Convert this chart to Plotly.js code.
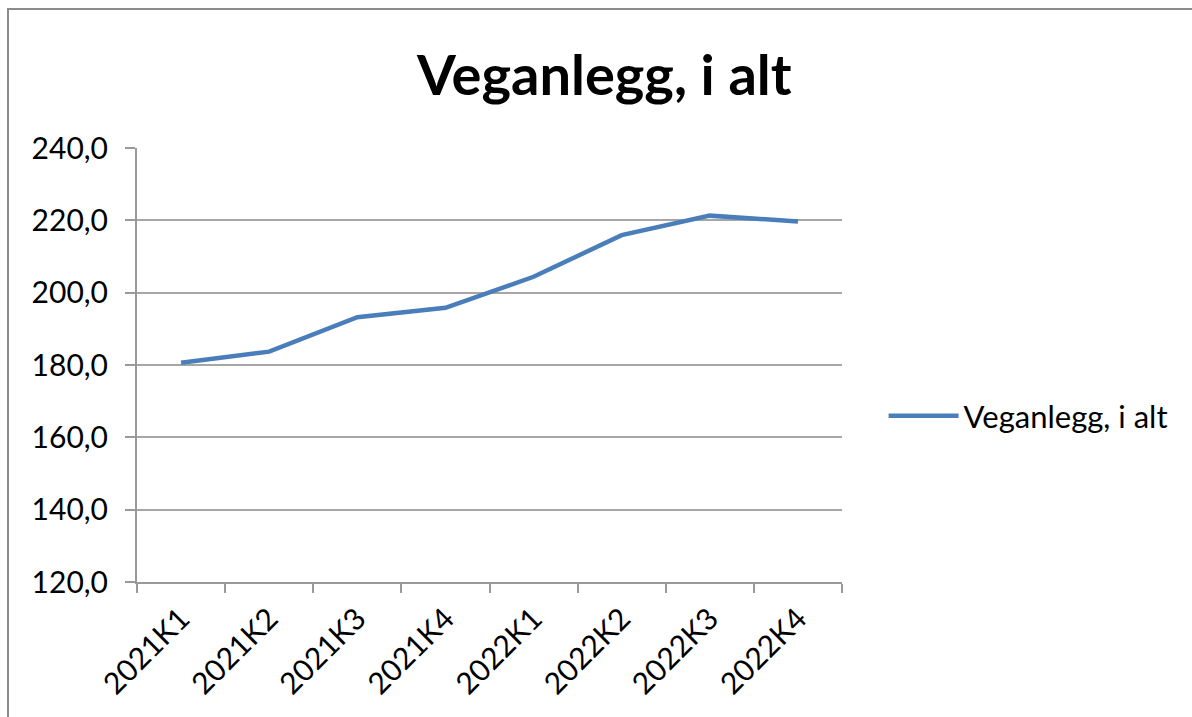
<!DOCTYPE html>
<html>
<head>
<meta charset="utf-8">
<script src="https://cdn.plot.ly/plotly-3.0.1.min.js"></script>
<style>
	body { margin: 0; background: #fff; }
	#wrap { position: relative; width: 1192px; height: 717px; overflow: hidden; }
	#chart { width: 1192px; height: 717px; }
	#frame { position: absolute; left: 7px; top: 8px; width: 1300px; height: 800px;
		border-left: 2px solid #8c8c8c; border-top: 2px solid #8c8c8c; pointer-events: none; }
</style>
</head>
<body>
<div id="wrap">
	<div id="chart"></div>
	<div id="frame"></div>
</div>
<script>
"use strict";
var quarters = ['2021K1', '2021K2', '2021K3', '2021K4', '2022K1', '2022K2', '2022K3', '2022K4'];
var veganlegg = [180.6, 183.7, 193.2, 195.8, 204.4, 215.9, 221.3, 219.7];
var yTicks = [120, 140, 160, 180, 200, 220, 240];
var seriesName = 'Veganlegg, i alt';

var trace = {
	x: quarters,
	y: veganlegg,
	name: seriesName,
	type: 'scatter',
	mode: 'lines',
	line: {
		color: '#4a7ebb',
		width: 4.5
	}
};

var layout = {
	width: 1192,
	height: 717,
	separators: ',.',
	font: { family: 'Lato, "Open Sans", sans-serif', color: '#000', size: 30 },
	title: {
		text: '<b>' + seriesName + '</b>',
		font: { size: 56, color: '#000' },
		x: 0.507,
		xanchor: 'center',
		y: 0.895,
		yanchor: 'middle'
	},
	paper_bgcolor: '#fff',
	plot_bgcolor: '#fff',
	margin: { l: 137, r: 350, t: 148, b: 135 },
	showlegend: true,
	legend: {
		x: 1.059,
		xanchor: 'left',
		y: 0.382,
		yanchor: 'middle',
		itemwidth: 70,
		font: { size: 31, color: '#000' },
		bgcolor: 'rgba(0,0,0,0)'
	},
	xaxis: {
		type: 'category',
		range: [-0.5, quarters.length - 0.5],
		tickson: 'boundaries',
		ticks: 'outside',
		ticklen: 9,
		tickwidth: 2,
		tickcolor: '#9a9a9a',
		ticklabelstandoff: 5,
		showline: true,
		linecolor: '#9a9a9a',
		linewidth: 2,
		showgrid: false,
		zeroline: false,
		tickangle: -45,
		tickfont: { size: 30 },
		fixedrange: true
	},
	yaxis: {
		range: [120, 240],
		tickvals: yTicks,
		tickformat: '.1f',
		ticks: 'outside',
		ticklen: 10,
		tickwidth: 2,
		tickcolor: '#9a9a9a',
		ticklabelstandoff: 11,
		showline: true,
		linecolor: '#9a9a9a',
		linewidth: 2,
		showgrid: true,
		gridcolor: '#a6a6a6',
		gridwidth: 2,
		zeroline: false,
		tickfont: { size: 30 },
		fixedrange: true
	}
};

Plotly.newPlot(document.getElementById('chart'), [trace], layout, { displayModeBar: false, staticPlot: true });
</script>
</body>
</html>
